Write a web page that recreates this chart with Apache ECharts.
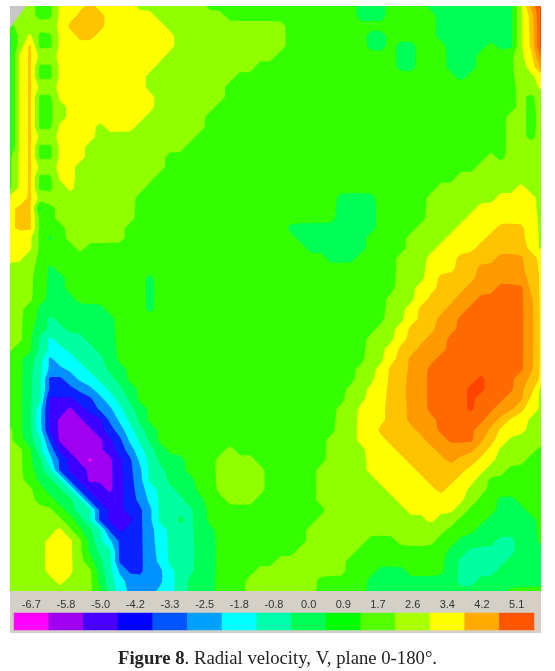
<!DOCTYPE html>
<html>
<head>
<meta charset="utf-8">
<title>Figure 8</title>
<style>
html, body { margin: 0; background: #fff; }
#chart { width: 555px; height: 671px; }
</style>
<script src="https://cdn.jsdelivr.net/npm/echarts@6/dist/echarts.min.js"></script>
</head>
<body>
<div id="chart"></div>
<script>
// legend of the colour bar
var legendValues = [-6.7, -5.8, -5.0, -4.2, -3.3, -2.5, -1.8, -0.8, 0.0, 0.9, 1.7, 2.6, 3.4, 4.2, 5.1];
var legendLabels = ['-6.7', '-5.8', '-5.0', '-4.2', '-3.3', '-2.5', '-1.8', '-0.8', '0.0', '0.9', '1.7', '2.6', '3.4', '4.2', '5.1'];
var legendColors = ['#ff00ff', '#a000f0', '#4800ff', '#0000ff', '#0055ff', '#00a0ff', '#00ffff', '#00ffaa', '#00ff55', '#00ff00', '#55ff00', '#aaff00', '#ffff00', '#ffaa00', '#ff5500'];

// contour bands as they appear on the map, letter a..o = band 0..14
var bandColors = ['#ff00ff', '#a000f0', '#3c00ff', '#0a20ff', '#0090ff', '#00ffff', '#00ffa0', '#00ff55', '#33ff00', '#90ff00', '#ffff00', '#ffc400', '#ff9900', '#ff6a00', '#ff4400'];

// band, one row per 10px from the top, run length coded
var bandRows = [
    'j3i2k3l1k4j7i15h3i4h9j1m1o1',
    'j3i2k2l3k5j7i13h3i5h8j1l1o1',
    'i1j4k1l4k6j12i15h8j1l1o1',
    'h1j1k1i2k2l2k8j11i8h2i5h8j1l1o1',
    'h1j1l1i2k12j11i8h2i1h2i3h4i1h2j1l1o1',
    'h1k1l1j2k11j11i12h2i3h3i4j1k1n1',
    'h1k1l1i2k10j10i14h2i3h3i4j1k1m1',
    'h1k1l1i2k9j9i22h1i5j2k1',
    'h1k1l1j2k9j8i29j2k1',
    'h1k1l1i2k10j7i29j1i1j1',
    'h1k1l1i2j1k9j6i30j1i1j1',
    'h1k1l1i2j1k8j6i30j2i1j1',
    'h1k1l1i2k4j1k3j7i30j2i1j1',
    'h1k1l1j2k4j10i31j2i1j1',
    'h1k1l1i2k3j10i32j4',
    'i1k1l1i2k3j8i32j1i1j4',
    'i1k1l1j2k2j9i31j7',
    'i1k1l1i2k2j8i30j9',
    'i1k1l1i2j1k1j7i29j8k1j2',
    'k2l1j10i20h4i5j7k4j1',
    'k1l2h1i1j8i20h4i5j5k6j1',
    'k1l2i2j8i20h4i5j4k7j1',
    'k1l2i3j6i16h9i4j4k4l3k1j1',
    'k3i1h1i1j6i17h7i4j4k4l4k1j1',
    'k3i4j1i22h6i4j3k4l5k1j1',
    'k2j1i29h3i4j3k3l4m3l1k1',
    'j3i1h1i34j3k3l2m5l1k1',
    'j3i1h2i8h1i24j3k1l4m5l1k1',
    'j3i1h2i8h1i24j2k2l3m3n3l1k1',
    'j3i1h3i7h1i23j3k1l3m2n5m1k1',
    'j2i1h7i4h1i23j2k1l3m2n6m1k1',
    'j2i1h1g1h6i27j2k1l2m2n7m1k1',
    'j2i1h1g2h5i26j2k1l3m2n7m1k1',
    'j2i1g1f1g3h3i25j3k1l2m2n8m1k1',
    'j1i2g1f2g3h2i25j2k1l2m3n8m1k1',
    'i2h1g1e1f2g3h1i25j2k1l1m3n9m1k1',
    'i2h1g1e2f2g2h2i23j2k1l2m2n10m1k1',
    'i2h1g1d2e1f2g2h1i23j2k1l2m2n5o1n3m1l1k1',
    'i2h1g1d3e2f1g2h1i21j2k2l2m2n4o2n3m1l1j1',
    'i2h1g1c3d2e1f1g1h1i21j2k2l2m2n4o1n3m2k1j1',
    'i2h1f1c2b1c1d1e2f1g1h1i19j2k3l2m2n4o1n2m2l1k1j1',
    'i2h1f1c1b3c2e1f1g1h1i19j2k3l2m3n5m1l1k2j2',
    'j1i1h1f1c1b4c1d1e1f1g1h1i18j2k2l4m2n4m1l1k3j2',
    'j1i1h1g1d1b5c1d1f1g1h1i17j3k3l4m2n3m1l1k1j4',
    'j2i1g1e1c1b4c1d1e1f1g1h1i6j1i9j4k3l4m4l1k1j4i1',
    'j2i1h1f1d1c1b1a1b2c1d1f1g1h3i3j4i7j4k4l4m1l2k2j3i2',
    'j2i1h1g1d1c2b3c1d1e1g2h2i3j5i5j5k5l5k2j2i4',
    'j2i1h2g1d1c1b3c1d1e1g2h3i2j5i5j6k5l3k2j1i6',
    'j3i1h2g1d1c2b1c1d1e1f1g2h2i2j5i5j7k5l1k2j2i6',
    'j3i2h2g1d1c3d1e1f1g3h2i2j3i6j8k7j1i2h2i3',
    'j5i1h1g2d1c2d2e1g4h1i12j8k5j1i3h3i2',
    'j6i1h1g1d1c3d1e1g2h1g1h1i11j11k1j2i3h5i1',
    'j5k1j1i1h1g1d1c1d2e1f1g3h2i9j14i3h6i1',
    'j4k3j1h1g1f1d3e1f1g3h2i9j6i3j4i2h4g2h2i1',
    'j4k3j1h1g2d3e1f1g3h2i8j6i9h2g5h3',
    'j4k3j1i1h1g1d3e1f1g3h2i6j7i10h1g5h4',
    'j4k3j2h1g1e1d2e2f1g2h2i4j9i3h3i4h1g4h5',
    'j5k1j3h1g1f1e4f1g1h3i3j7i5h9g2h7',
    'j9i1g1f1e3f2g1h3i3j7i5h14i4'
];

var columns = 54;

function expandRow(text) {
    var out = [];
    text.replace(/([a-o])(\d+)/g, function (m, letter, count) {
        for (var i = 0; i < Number(count); i++) {
            out.push(letter.charCodeAt(0) - 97);
        }
    });
    while (out.length < columns) out.push(out[out.length - 1]);
    return out.slice(0, columns);
}

var bands = bandRows.map(expandRow);

// soften the 10px steps so contours do not staircase, every node stays in its own band
function softened(grid) {
    var out = [];
    for (var r = 0; r < grid.length; r++) {
        out.push([]);
        for (var c = 0; c < columns; c++) {
            var sum = 0;
            var weight = 0;
            for (var dr = -2; dr <= 2; dr++) {
                for (var dc = -2; dc <= 2; dc++) {
                    var row = grid[r + dr];
                    if (!row || row[c + dc] === undefined) continue;
                    var w = (3 - Math.abs(dr)) * (3 - Math.abs(dc));
                    sum += row[c + dc] * w;
                    weight += w;
                }
            }
            var v = sum / weight;
            out[r].push(Math.max(grid[r][c] - 0.3, Math.min(grid[r][c] + 0.3, v)));
        }
    }
    return out;
}

var field = softened(bands);

var cells = [];
for (var r = 0; r < field.length - 1; r++) {
    for (var c = 0; c < columns - 1; c++) {
        cells.push([c, r, field[r][c], field[r][c + 1], field[r + 1][c + 1], field[r + 1][c]]);
    }
}

// part of the square where the band is at least level
function clipSquare(pts, level) {
    var out = [];
    for (var i = 0; i < pts.length; i++) {
        var a = pts[i];
        var b = pts[(i + 1) % pts.length];
        if (a[2] >= level) out.push(a);
        if ((a[2] >= level) !== (b[2] >= level)) {
            var t = (level - a[2]) / (b[2] - a[2]);
            out.push([a[0] + (b[0] - a[0]) * t, a[1] + (b[1] - a[1]) * t, level]);
        }
    }
    return out;
}

function renderCell(params, api) {
    var c = api.value(0);
    var r = api.value(1);
    var square = [[c, r, api.value(2)], [c + 1, r, api.value(3)], [c + 1, r + 1, api.value(4)], [c, r + 1, api.value(5)]];
    // whole pixels, otherwise white seams show between the squares
    var px = square.map(function (p) {
        var xy = api.coord([p[0], p[1]]);
        return [Math.round(xy[0]), Math.round(xy[1]), p[2]];
    });
    var low = Math.round(Math.min(px[0][2], px[1][2], px[2][2], px[3][2]));
    var high = Math.round(Math.max(px[0][2], px[1][2], px[2][2], px[3][2]));
    var children = [];
    for (var k = low; k <= high; k++) {
        var poly = k === low ? px : clipSquare(px, k - 0.5);
        children.push({
            type: 'polygon',
            shape: { points: poly.map(function (p) { return [p[0], p[1]]; }) },
            style: { fill: bandColors[k], stroke: null }
        });
    }
    return { type: 'group', children: children };
}

var chart = echarts.init(document.getElementById('chart'));

var option = {
    backgroundColor: '#fff',
    animation: false,
    title: {
        text: '{b|Figure 8}. Radial velocity, V, plane 0-180°.',
        left: 'center',
        top: 645,
        textStyle: {
            fontFamily: 'Liberation Serif',
            fontSize: 18.7,
            fontWeight: 'normal',
            color: '#222',
            rich: {
                b: { fontFamily: 'Liberation Serif', fontSize: 18.7, fontWeight: 'bold', color: '#222' }
            }
        }
    },
    graphic: [{
        type: 'rect',
        shape: { x: 10, y: 591, width: 531, height: 42 },
        style: { fill: '#d4d0c8' }
    }, {
        type: 'polygon',
        z: 100,
        shape: { points: [[10, 6], [26, 6], [10, 28]] },
        style: { fill: '#c8c8c8' }
    }],
    grid: [
        { left: 10, top: 6, width: 531, height: 585 },
        { left: 14, top: 613, width: 520, height: 17 }
    ],
    xAxis: [{
        type: 'value', gridIndex: 0, min: 0, max: columns - 1, show: false
    }, {
        type: 'category',
        gridIndex: 1,
        position: 'top',
        data: legendLabels,
        axisLine: { show: false },
        axisTick: { show: false },
        axisLabel: { fontFamily: 'Liberation Sans', fontSize: 11, color: '#333', margin: 3, interval: 0 }
    }],
    yAxis: [{
        type: 'value', gridIndex: 0, min: 0, max: bands.length - 1, inverse: true, show: false
    }, {
        type: 'category', gridIndex: 1, data: ['V'], show: false
    }],
    visualMap: {
        show: false,
        type: 'piecewise',
        seriesIndex: 1,
        dimension: 2,
        pieces: legendValues.map(function (v, i) { return { value: v, color: legendColors[i] }; })
    },
    series: [{
        type: 'custom',
        xAxisIndex: 0,
        yAxisIndex: 0,
        progressive: 0,
        silent: true,
        renderItem: renderCell,
        data: cells
    }, {
        type: 'heatmap',
        xAxisIndex: 1,
        yAxisIndex: 1,
        silent: true,
        data: legendValues.map(function (v, i) { return [i, 0, v]; })
    }]
};

chart.setOption(option);
</script>
</body>
</html>
